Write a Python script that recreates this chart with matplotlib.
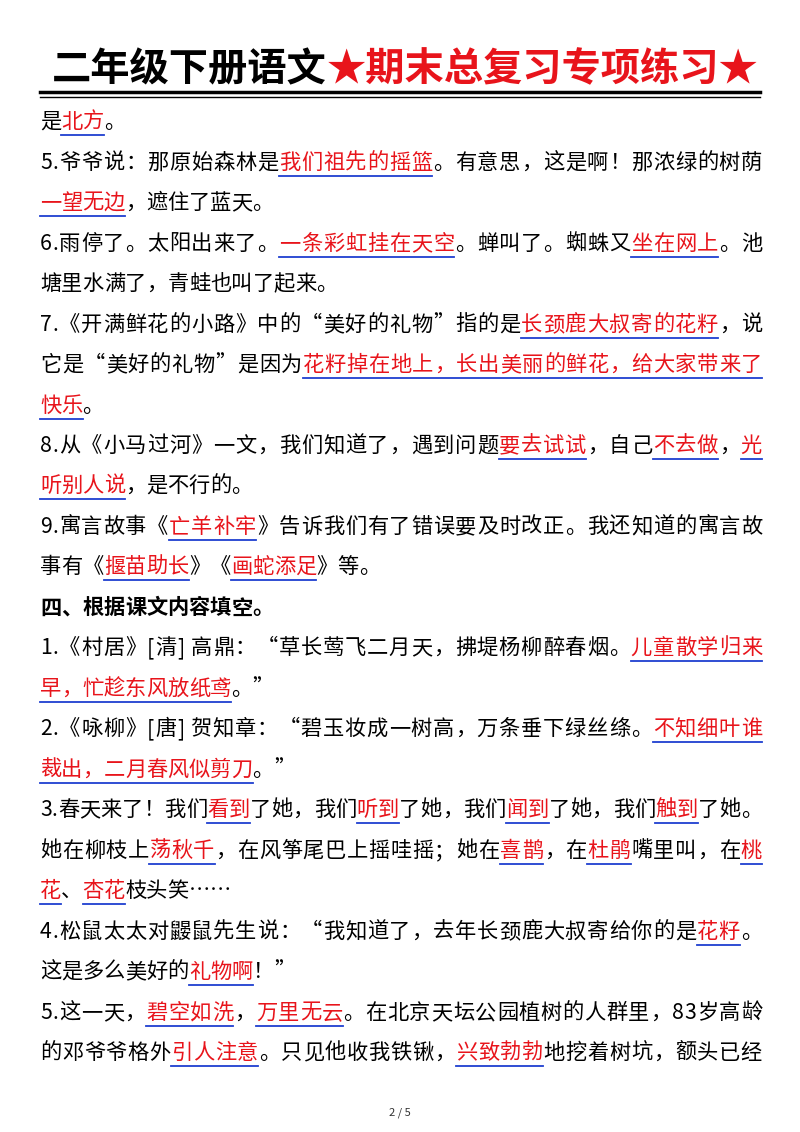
import matplotlib
matplotlib.use("Agg")
import matplotlib.pyplot as plt

FAM = ['Noto Sans CJK SC', 'DejaVu Sans']

title_black = "二年级下册语文"
title_red = "★期末总复习专项练习★"

lines = [
    "是[北方]。",
    "5.爷爷说：那原始森林是[我们祖先的摇篮]。有意思，这是啊！那浓绿的树荫",
    "[一望无边]，遮住了蓝天。",
    "6.雨停了。太阳出来了。[一条彩虹挂在天空]。蝉叫了。蜘蛛又[坐在网上]。池",
    "塘里水满了，青蛙也叫了起来。",
    "7.《开满鲜花的小路》中的“美好的礼物”指的是[长颈鹿大叔寄的花籽]，说",
    "它是“美好的礼物”是因为[花籽掉在地上，长出美丽的鲜花，给大家带来了]",
    "[快乐]。",
    "8.从《小马过河》一文，我们知道了，遇到问题[要去试试]，自己[不去做]，[光]",
    "[听别人说]，是不行的。",
    "9.寓言故事《[亡羊补牢]》告诉我们有了错误要及时改正。我还知道的寓言故",
    "事有《[揠苗助长]》《[画蛇添足]》等。",
    "#四、根据课文内容填空。",
    "1.《村居》[清] 高鼎：“草长莺飞二月天，拂堤杨柳醉春烟。[儿童散学归来]",
    "[早，忙趁东风放纸鸢]。”",
    "2.《咏柳》[唐] 贺知章：“碧玉妆成一树高，万条垂下绿丝绦。[不知细叶谁]",
    "[裁出，二月春风似剪刀]。”",
    "3.春天来了！我们[看到]了她，我们[听到]了她，我们[闻到]了她，我们[触到]了她。",
    "她在柳枝上[荡秋千]，在风筝尾巴上摇哇摇；她在[喜鹊]，在[杜鹃]嘴里叫，在[桃]",
    "[花]、[杏花]枝头笑……",
    "4.松鼠太太对鼹鼠先生说：“我知道了，去年长颈鹿大叔寄给你的是[花籽]。",
    "这是多么美好的[礼物啊]！”",
    "5.这一天，[碧空如洗]，[万里无云]。在北京天坛公园植树的人群里，83岁高龄",
    "的邓爷爷格外[引人注意]。只见他收我铁锹，[兴致勃勃]地挖着树坑，额头已经",
]
line_y = [122, 163, 203, 244, 284, 325, 365, 406, 446, 486, 527, 567, 608,
          648, 689, 729, 770, 810, 851, 891, 932, 972, 1013, 1053]


def parse(s):
    segs, cur, red = [], "", False
    i = 0
    while i < len(s):
        c = s[i]
        if c == '[' and s[i:i+3] in ("[清]", "[唐]"):
            cur += s[i:i+3]; i += 3; continue
        if c == '[':
            if cur: segs.append((cur, red))
            cur, red = "", True
        elif c == ']':
            if cur: segs.append((cur, red))
            cur, red = "", False
        else:
            cur += c
        i += 1
    if cur: segs.append((cur, red))
    return segs


fig = plt.figure(figsize=(8, 11.32), dpi=100)
ax = fig.add_axes([0, 0, 1, 1])
ax.set_xlim(0, 800); ax.set_ylim(1132, 0); ax.axis('off')
r = fig.canvas.get_renderer()


def width(t):
    return t.get_window_extent(renderer=r).width


# title
x = 52
t = ax.text(x, 70, title_black, fontsize=28.3, fontweight='bold', family=FAM,
            va='center', ha='left', color='black')
x += width(t)
ax.text(x, 70, title_red, fontsize=28.3, fontweight='bold', family=FAM,
        va='center', ha='left', color='#e8141b')
ax.plot([40, 760], [92, 92], color='black', lw=2.5)
ax.plot([40, 760], [97, 97], color='black', lw=1)

FS = 15.3
LEFT, RIGHT = 40, 762
for s, y in zip(lines, line_y):
    bold = s.startswith('#')
    if bold:
        s = s[1:]
    segs = parse(s)
    # measure natural width
    tmp = ax.text(0, 0, "".join(t for t, _ in segs), fontsize=FS, family=FAM,
                  fontweight='bold' if bold else 'normal')
    natural = width(tmp)
    tmp.remove()
    nchars = sum(len(t) for t, _ in segs)
    extra = 0.0
    if natural > 680 and natural < RIGHT - LEFT and nchars > 1:
        extra = (RIGHT - LEFT - natural) / (nchars - 1)
    x = LEFT
    for txt, red in segs:
        x0 = x
        for ch in txt:
            t = ax.text(x, y, ch, fontsize=FS, family=FAM, va='center', ha='left',
                        color='#e8141b' if red else 'black',
                        fontweight='bold' if bold else 'normal')
            x += width(t) + extra
        if red:
            ax.plot([x0, x - extra], [y + 13, y + 13], color='#1f3fd0', lw=1.3)

ax.text(400, 1113, "2 / 5", fontsize=8, family=FAM, ha='center', va='center', color='#333333')
fig.savefig("out.png", dpi=100)
